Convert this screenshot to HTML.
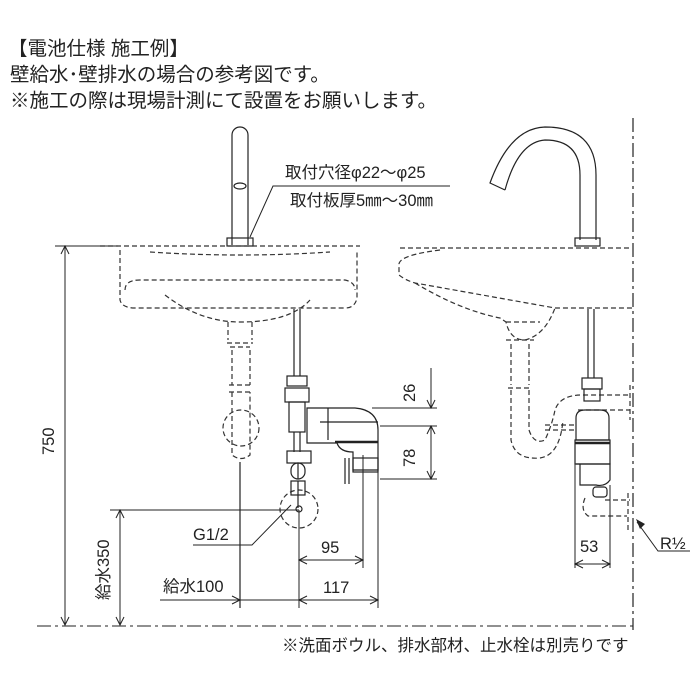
<!DOCTYPE html>
<html><head><meta charset="utf-8"><style>
html,body{margin:0;padding:0;background:#fff;}
svg{display:block;}
text{font-family:"Liberation Sans","Noto Sans CJK JP",sans-serif;fill:#222;}
</style></head><body>
<svg width="700" height="700" viewBox="0 0 700 700" xmlns="http://www.w3.org/2000/svg">
<g font-size="19.5">
<text x="8" y="55">【電池仕様 施工例】</text>
<text x="10" y="81">壁給水･壁排水の場合の参考図です。</text>
<text x="10" y="107">※施工の際は現場計測にて設置をお願いします。</text>
</g>

<g fill="none" stroke="#222" stroke-width="1.2">
<path d="M232 245 V135 a8 8 0 0 1 16 0 V245"/>
<ellipse cx="240" cy="186" rx="6" ry="3"/>
<rect x="227" y="238" width="26" height="8"/>
<path d="M250 237 L273 186 H450" stroke-width="1"/>

<g stroke-dasharray="5,3" stroke="#333">
<path d="M100 246 H360"/>
<path d="M120 250 V300 Q122 308 135 308 H345 Q355 308 357 298 V250"/>
<path d="M150 252 Q240 258 330 252"/>
<path d="M125 290 Q125 280 140 280 H345 Q355 282 355 290"/>
<path d="M165 295 Q200 322 240 322 Q290 322 310 300"/>
<path d="M228 322 V340 M252 322 V340"/>
<path d="M227 343 H253 M230 347 H250 M232 350 V385 M250 350 V385 M229 385 H253 M229 392 H253"/>
<path d="M232 392 V455 Q241 462 250 455 V392"/>
<circle cx="241" cy="428" r="18"/>
<circle cx="299" cy="509" r="19"/>
</g>
<path d="M240 462 V608"/>

<path d="M294 309 V376 M300 309 V376"/>
<rect x="287" y="376" width="20" height="10"/>
<rect x="285" y="388" width="24" height="14"/>
<rect x="289" y="402" width="16" height="30"/>
<path d="M294 432 V452 M300 432 V452"/>
<rect x="287" y="451" width="24" height="12"/>
<rect x="291" y="463" width="14" height="16" rx="7"/>
<path d="M298 463 V479"/>
<rect x="291" y="481" width="14" height="14"/>
<path d="M298 481 V508"/>
<circle cx="299" cy="509" r="3"/>
<path d="M307 408 H355 Q378 410 378 430 V470 H353 V452 Q340 452 337 443 H307 Z"/>
<path d="M328 408 V440 M320 422 H378"/>
<path d="M335 442 H378" stroke-width="2.5"/>
<rect x="353" y="458" width="25" height="14"/>
<path d="M345 458 V484 M349 458 V484"/>

<path d="M372 408 H437 M380 426 H437 M380 479 H437" stroke-width="1"/>
<path d="M431 368 V408 M431 426 V479" stroke-width="1"/>
<path d="M427 400 L431 408 L435 400 M427 434 L431 426 L435 434 M427 471 L431 479 L435 471" stroke-width="1"/>

<path d="M55 246 H118" stroke-width="1"/>
<path d="M65 246 V625" stroke-width="1"/>
<path d="M61 254 L65 246 L69 254 M61 617 L65 625 L69 617" stroke-width="1"/>
<path d="M110 510 H299" stroke-width="1"/>
<path d="M120 510 V625" stroke-width="1"/>
<path d="M116 518 L120 510 L124 518 M116 617 L120 625 L124 617" stroke-width="1"/>
<path d="M193 545 H252 L291 505" stroke-width="1"/>
<path d="M299 510 V608 M363 455 V568 M378 467 V608" stroke-width="1"/>
<path d="M299 560 H363 M307 556 L299 560 L307 564 M355 556 L363 560 L355 564" stroke-width="1"/>
<path d="M160 600 H378 M232 596 L240 600 L232 604 M307 596 L299 600 L307 604 M370 596 L378 600 L370 604" stroke-width="1"/>

<path d="M37 626 H635" stroke-dasharray="14,4,3,4" stroke-width="1"/>
<path d="M633 118 V630" stroke-dasharray="14,4,3,4" stroke-width="1.2"/>

<path d="M580 240 V175 Q580 140 545 140 Q518 142 505 190 M596 240 V175 Q596 127 545 127 Q510 128 490 183 L505 190"/>
<rect x="575" y="238" width="25" height="8"/>

<g stroke-dasharray="5,3" stroke="#333">
<path d="M400 248 H632"/>
<path d="M440 250 Q400 255 399 264 V275 Q405 280 415 283 L555 308 H632"/>
<path d="M415 283 Q460 310 500 318 L506 322 Q510 340 525 340 Q545 335 555 308"/>
<path d="M506 322 H540"/>
<path d="M506 340 H534 M511 344 V385 M529 344 V385 M508 388 H532"/>
<path d="M511 390 V440 Q515 460 540 458 Q560 455 563 420 M529 390 V430 Q534 445 545 440 Q552 425 555 410 Q560 395 582 395 H630 M578 410 H630"/>
<path d="M545 425 H575 M545 430 H575"/>
<path d="M630 385 V420"/>
<path d="M585 498 Q580 510 588 516 H627 M605 500 H630 M628 493 V530"/>
</g>
<path d="M588 309 V378 M594 309 V378"/>
<rect x="582" y="378" width="20" height="11"/>
<rect x="584" y="389" width="16" height="12"/>
<path d="M576 418 Q576 410 585 410 H600 Q609 410 609 418 V440 H576 Z"/>
<rect x="575" y="440" width="35" height="24"/>
<path d="M575 443 H610" stroke-width="2.5"/>
<path d="M576 464 H610 V480 Q605 487 596 485 H580 V464"/>
<rect x="593" y="487" width="14" height="10" rx="3"/>
<path d="M575 464 V568 M610 485 V568" stroke-width="1"/>
<path d="M575 564 H610 M583 560 L575 564 L583 568 M602 560 L610 564 L602 568" stroke-width="1"/>
<path d="M637 522 L658 551 H690" stroke-width="1"/>
</g>
<path d="M636 519 L645 524 L640 529 Z" fill="#222"/>

<g font-size="16.5">
<text x="285" y="178">取付穴径φ22～φ25</text>
<text x="290" y="206">取付板厚5㎜～30㎜</text>
<text x="193" y="540">G1/2</text>
<text x="321" y="553">95</text>
<text x="323" y="593">117</text>
<text x="163" y="592">給水100</text>
<text x="580" y="552">53</text>
<text x="660" y="549">R½</text>
<text x="282" y="651">※洗面ボウル、排水部材、止水栓は別売りです</text>
<text transform="translate(54,455) rotate(-90)">750</text>
<text transform="translate(109,600) rotate(-90)">給水350</text>
<text transform="translate(415,402) rotate(-90)">26</text>
<text transform="translate(415,467) rotate(-90)">78</text>
</g>
</svg>
</body></html>
